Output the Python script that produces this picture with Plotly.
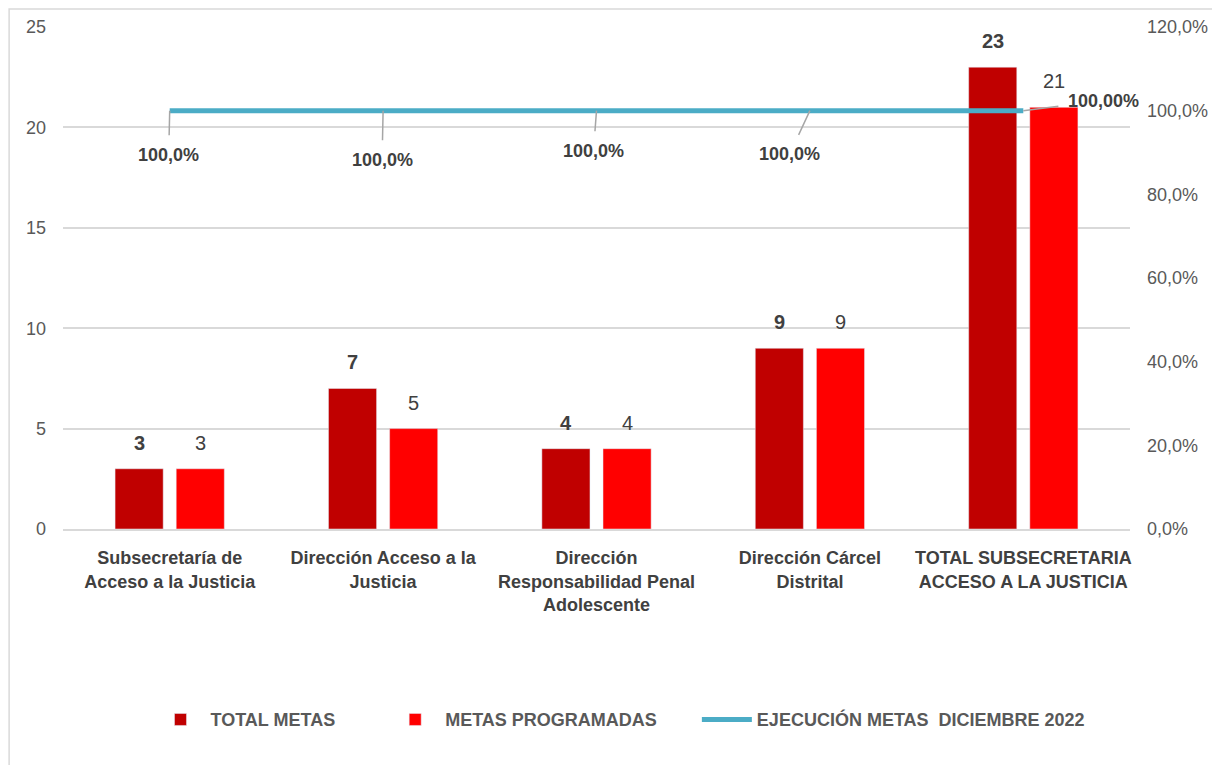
import plotly.graph_objects as go

categories = [
    "Subsecretaría de<br>Acceso a la Justicia",
    "Dirección Acceso a la<br>Justicia",
    "Dirección<br>Responsabilidad Penal<br>Adolescente",
    "Dirección Cárcel<br>Distrital",
    "TOTAL SUBSECRETARIA<br>ACCESO A LA JUSTICIA",
]
total_metas = [3, 7, 4, 9, 23]
metas_programadas = [3, 5, 4, 9, 21]
ejecucion = [1.0, 1.0, 1.0, 1.0, 1.0]
ejecucion_labels = ["100,0%", "100,0%", "100,0%", "100,0%", "100,00%"]

DARK_RED = "#C00000"
RED = "#FF0000"
TEAL = "#4BACC6"
TEXT = "#595959"
LABEL = "#404040"
FONT = "Liberation Sans, Arial, sans-serif"
NB = "\u00a0"

fig = go.Figure()

fig.add_trace(
    go.Bar(
        x=categories,
        y=total_metas,
        name=f"<b>TOTAL METAS</b>{NB * 9}",
        marker_color=DARK_RED,
    )
)
fig.add_trace(
    go.Bar(
        x=categories,
        y=metas_programadas,
        name=f"<b>METAS PROGRAMADAS</b>{NB * 7}",
        marker_color=RED,
    )
)
fig.add_trace(
    go.Scatter(
        x=categories,
        y=ejecucion,
        name="<b>EJECUCIÓN METAS  DICIEMBRE 2022</b>",
        mode="lines",
        line=dict(color=TEAL, width=5),
        yaxis="y2",
    )
)

# bar value labels (bold for total, regular for programmed), sitting above each bar
for cat, tot, prog in zip(categories, total_metas, metas_programadas):
    fig.add_annotation(
        x=cat, y=tot, xref="x", yref="y", xshift=-30.5, yshift=26,
        text=f"<b>{tot}</b>", showarrow=False,
        font=dict(size=20, color=LABEL, family=FONT),
    )
    fig.add_annotation(
        x=cat, y=prog, xref="x", yref="y", xshift=30.5, yshift=26,
        text=f"{prog}", showarrow=False,
        font=dict(size=20, color=LABEL, family=FONT),
    )

# data labels for the line, with leader lines
offsets = [(-1, 44), (-1, 49), (-3, 40), (-20, 43), (80, -10)]
for cat, val, lab, (ax, ay) in zip(categories, ejecucion, ejecucion_labels, offsets):
    fig.add_annotation(
        x=cat,
        y=val,
        xref="x",
        yref="y2",
        text=f"<b>{lab}</b>",
        showarrow=True,
        arrowhead=0,
        arrowwidth=1.5,
        arrowcolor="#A6A6A6",
        ax=ax,
        ay=ay,
        startstandoff=8,
        font=dict(size=18, color=LABEL, family=FONT),
    )

# outer chart frame
fig.add_shape(
    type="rect",
    xref="paper",
    yref="paper",
    x0=-0.0505,
    x1=1.2,
    y0=-0.6,
    y1=1.036,
    line=dict(color="#D9D9D9", width=1.5),
    fillcolor="rgba(0,0,0,0)",
    layer="below",
)

fig.update_layout(
    width=1220,
    height=765,
    margin=dict(l=55, r=98, t=19, b=244, autoexpand=False),
    plot_bgcolor="white",
    paper_bgcolor="white",
    separators=",.",
    font=dict(family=FONT, color=TEXT, size=16),
    barmode="group",
    bargap=0.427,
    bargroupgap=0.213,
    showlegend=True,
    legend=dict(
        orientation="h",
        x=0.082,
        xanchor="left",
        y=-0.38,
        yanchor="middle",
        font=dict(size=18, color=TEXT, family=FONT),
        itemwidth=50,
        traceorder="normal",
    ),
    xaxis=dict(
        range=[-0.5, len(categories) - 0.5],
        showline=True,
        linecolor="#D9D9D9",
        linewidth=1.5,
        tickfont=dict(size=18, color=LABEL),
        tickprefix="<b>",
        ticksuffix="</b>",
        ticks="",
        ticklabelstandoff=12,
        automargin=False,
    ),
    yaxis=dict(
        range=[0, 25],
        dtick=5,
        showgrid=True,
        gridcolor="#D9D9D9",
        gridwidth=1.5,
        zeroline=False,
        tickfont=dict(size=18, color=TEXT),
        ticklabelstandoff=16,
        automargin=False,
    ),
    yaxis2=dict(
        range=[0, 1.2],
        dtick=0.2,
        tickformat=".1%",
        overlaying="y",
        side="right",
        showgrid=False,
        zeroline=False,
        tickfont=dict(size=18, color=TEXT),
        ticklabelstandoff=16,
        automargin=False,
    ),
)

fig.write_html("out.html")
